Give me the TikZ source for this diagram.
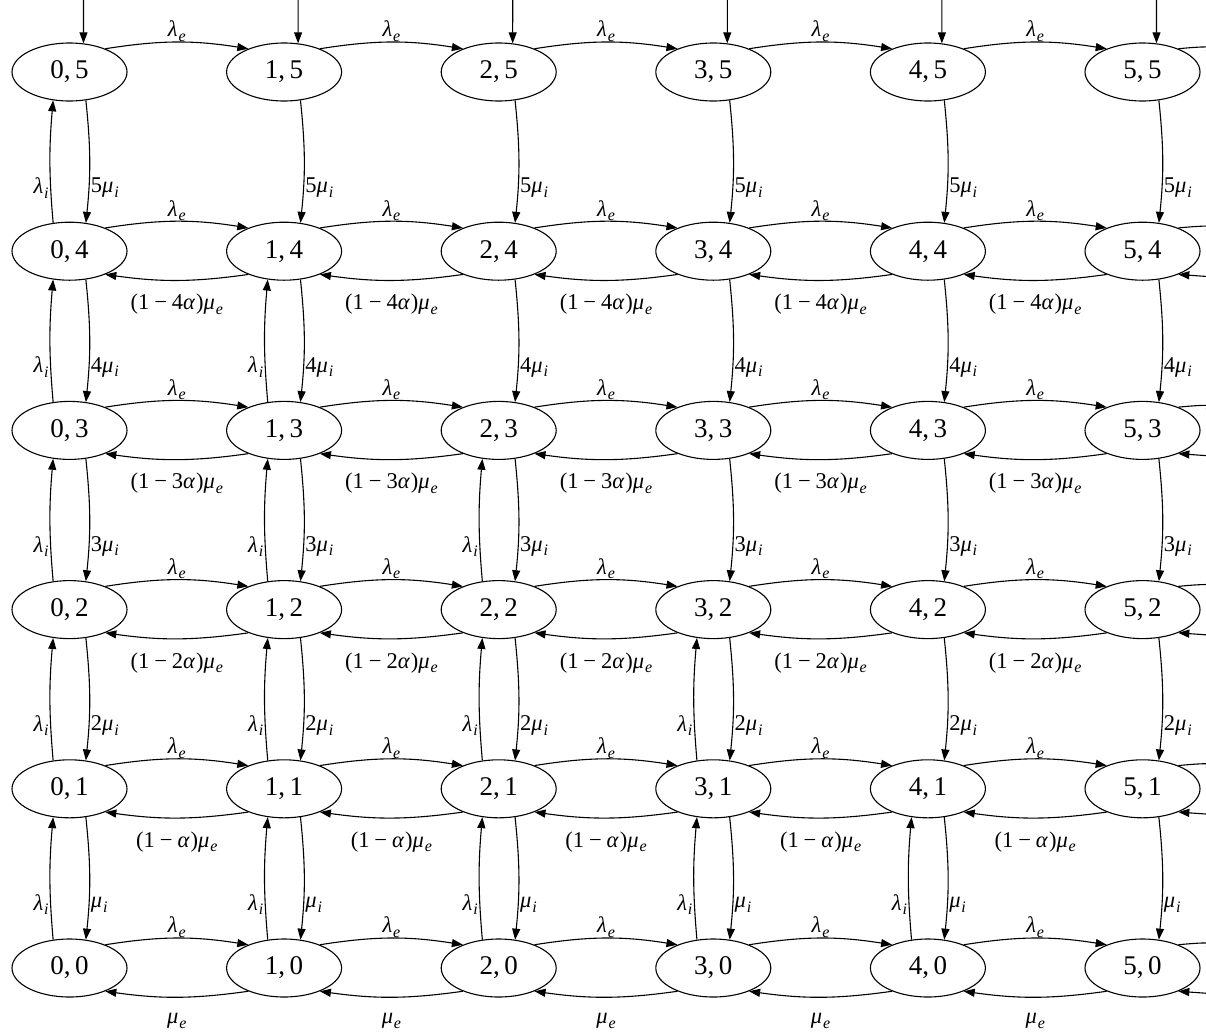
\documentclass[tikz,border=0pt]{standalone}
\usepackage{fontspec}
\setmainfont{Liberation Serif}
\usetikzlibrary{shapes.geometric,arrows.meta}
\newcommand\sbx[1]{\raisebox{-0.2em}{\fontsize{16}{16}\selectfont\textit{#1}}}
\newcommand\gkl[1]{\textit{#1}\hspace{0.04em}}
\newcommand\lam[1]{\gkl{λ}\sbx{#1}}
\newcommand\muu[1]{\gkl{μ}\sbx{#1}}
\newcommand\alp{\gkl{α}}
\newcommand\mns{\hspace{0.22em}−\hspace{0.22em}}
\begin{document}
\begin{tikzpicture}[x=1pt,y=-1pt,
  st/.style={ellipse,draw,line width=1.1pt,minimum width=115pt,minimum height=58pt,inner sep=0pt,font=\fontsize{27}{30}\selectfont},
  arr/.style={line width=1.1pt,-{Triangle[length=11pt,width=8pt]}},
  lbl/.style={font=\fontsize{22.5}{25}\selectfont,inner sep=1.5pt}]
\useasboundingbox (0,0) rectangle (1206,1031);
\clip (0,0) rectangle (1206,1031);
\foreach \i in {0,...,5}{
 \foreach \j in {0,...,5}{
  \node[st] (n\i\j) at ({69.5+214.6*\i},{72+179.2*(5-\j)}) {\i,\,\j};
 }}
% lambda_e forward
\foreach \i [evaluate=\i as \ii using int(\i+1)] in {0,...,4}{
 \foreach \j in {0,...,5}{
  \draw[arr] (n\i\j.33) to[bend left=9] node[lbl,midway,yshift=11pt]{\lam{e}} (n\ii\j.147);
 }}
% mu_e return
\foreach \i [evaluate=\i as \ii using int(\i+1)] in {0,...,4}{
 \foreach \j in {0,...,4}{
  \draw[arr] (n\ii\j.213) to[bend left=8] node[lbl,midway,yshift=-24pt]{\ifcase\j\relax \muu{e}\or (1\mns\alp)\muu{e}\else (1\mns\j\alp)\muu{e}\fi} (n\i\j.327);
 }}
% down mu_i
\foreach \i in {0,...,5}{
 \foreach \j [evaluate=\j as \jj using int(\j+1)] in {0,...,4}{
  \draw[arr] (n\i\jj.300) to[bend left=6] node[lbl,pos=0.73,anchor=west]{\ifnum\jj=1\relax\else\jj\fi\muu{i}} (n\i\j.60);
 }}
% up lambda_i
\foreach \i in {0,...,5}{
 \foreach \j [evaluate=\j as \jj using int(\j+1)] in {0,...,4}{
  \pgfmathtruncatemacro\ssum{\i+\j}
  \ifnum\ssum<5\relax
   \draw[arr] (n\i\j.120) to[bend left=5] node[lbl,pos=0.27,anchor=east]{\lam{i}} (n\i\jj.240);
  \fi
 }}
% incoming from top
\foreach \i in {0,...,5}{
 \coordinate (t\i) at ({83.5+214.6*\i},-2);
 \draw[arr] (t\i) -- (n\i5.64);
}
% stubs on the right
\foreach \j in {0,...,5}{
 \coordinate (ro\j) at (1217,{72+179.2*(5-\j)-25});
 \draw[arr] (n5\j.33) to[bend left=3] (ro\j);
}
\foreach \j in {0,...,4}{
 \coordinate (ri\j) at (1217,{72+179.2*(5-\j)+26});
 \draw[arr] (ri\j) -- (n5\j.327);
}
\end{tikzpicture}
\end{document}
